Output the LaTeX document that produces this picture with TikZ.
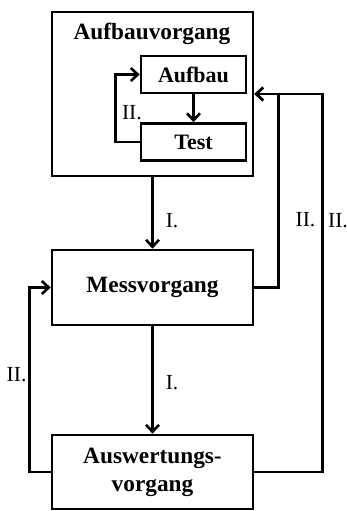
\documentclass[tikz,border=0pt]{standalone}
\usepackage{fontspec}
\setmainfont{Liberation Serif}
\usetikzlibrary{arrows.meta}
\tikzset{
	kasten/.style={draw, line width=2.6pt, align=center, inner sep=0pt, font=\bfseries\fontsize{23.3}{28}\selectfont},
	klein/.style={kasten, minimum width=105, minimum height=37, font=\bfseries\fontsize{22}{26}\selectfont},
	marke/.style={inner sep=0pt, font=\fontsize{21.5}{24}\selectfont}
}
\begin{document}
\begin{tikzpicture}[>={Straight Barb[length=7pt,width=13pt]},x=1pt,y=-1pt,line width=2.6pt]
	\def\bw{201} % Breite der großen Kästen
	\useasboundingbox (0,0) rectangle (347,511);
	\node[kasten,minimum width=\bw,minimum height=164] (aufbauvorgang) at (152.5,94) {};
	\node[font=\bfseries\fontsize{23.3}{28}\selectfont] (titel) at (152,34) {Aufbauvorgang};
	\node[klein] (aufbau) at (193.5,74.5) {Aufbau};
	\node[klein] (test) at (193.5,142) {Test};
	\node[kasten,minimum width=\bw,minimum height=75] (mess) at (152.5,287.5) {Messvorgang};
	\node[kasten,minimum width=\bw,minimum height=74] (ausw) at (152.5,472) {Auswertungs-\\vorgang};
	% Hauptablauf I.
	\draw[->] (aufbau) -- (test);
	\draw[->] (aufbauvorgang.south) -- node[marke,pos=.6,right=12pt]{I.} (mess.north);
	\draw[->] (mess.south) -- node[marke,pos=.52,right=12pt]{I.} (ausw.north);
	% Rückführungen II.
	\draw[->] (test.west) -- ++(-24,0) |- node[marke,pos=.215,right=5pt]{II.} (aufbau.west);
	\draw[->] (mess.east) -- ++(24,0) |- node[marke,pos=.175,right=16pt]{II.} (aufbauvorgang.east);
	\draw[->] (ausw.east) -- ++(68,0) |- node[marke,pos=.333,right=4.5pt]{II.} (aufbauvorgang.east);
	\draw[->] (ausw.west) -- ++(-21,0) |- node[marke,pos=.263,left=2pt]{II.} (mess.west);
\end{tikzpicture}
\end{document}
